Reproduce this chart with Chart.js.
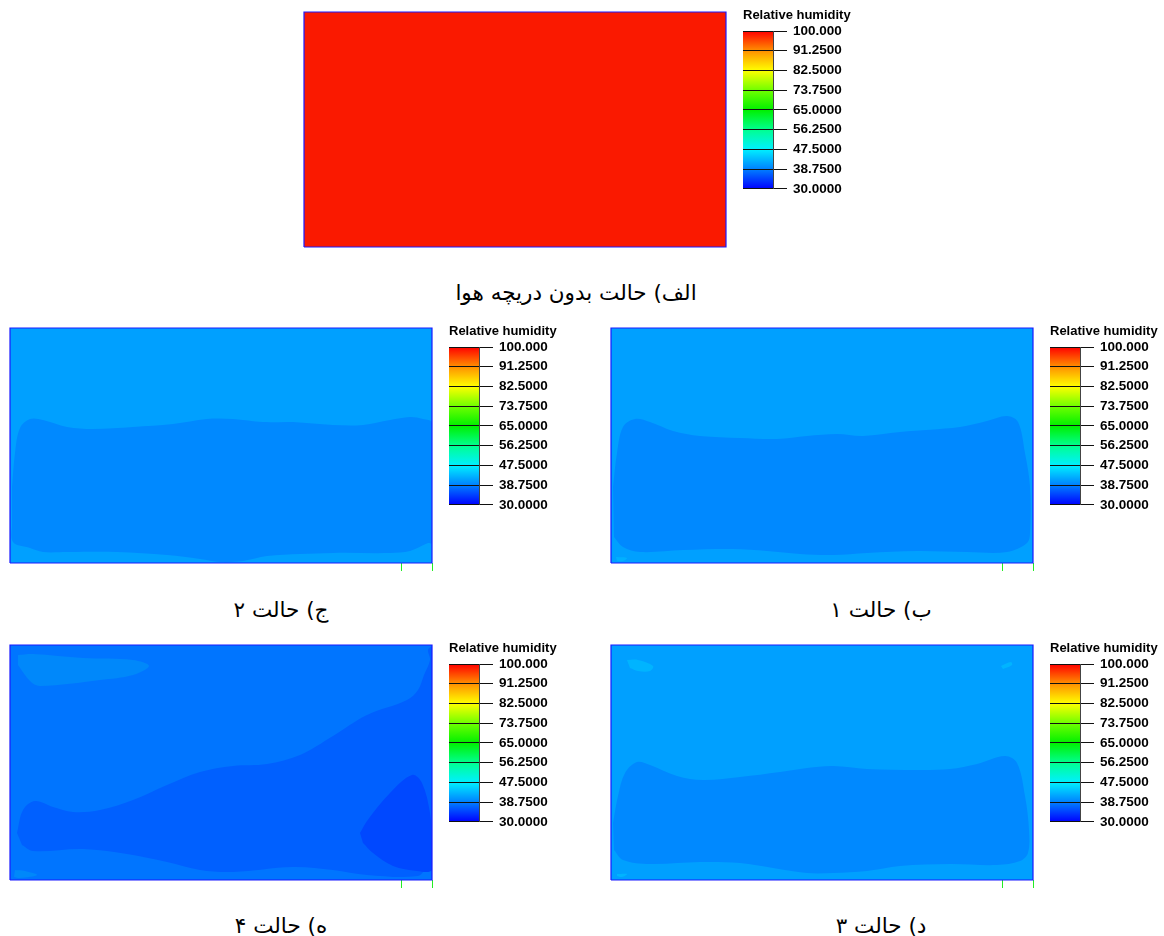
<!DOCTYPE html>
<html>
<head>
<meta charset="utf-8">
<title>Relative humidity</title>
<script src="https://cdn.jsdelivr.net/npm/chart.js@4/dist/chart.umd.min.js"></script>
<style>
	html, body { margin: 0; padding: 0; background: #fff; }
	#page { position: relative; width: 1164px; height: 936px; overflow: hidden; }
	canvas { position: absolute; }
	.caption {
		position: absolute;
		transform: translate(-50%, -50%);
		font-family: "DejaVu Sans", sans-serif;
		font-size: 21.5px;
		color: #000;
		white-space: nowrap;
		direction: rtl;
	}
</style>
</head>
<body>
<div id="page"></div>
<script>

/* Colour bar */
var barLevels = [30, 38.75, 47.5, 56.25, 65, 73.75, 82.5, 91.25, 100];
var barTickLabels = ['30.0000', '38.7500', '47.5000', '56.2500', '65.0000', '73.7500', '82.5000', '91.2500', '100.000'];
var barColors = ['#0000ff', '#0080ff', '#00f0ff', '#00ff90', '#00f000', '#70ff00', '#ffff00', '#ff9000', '#ff0000'];
var barTitle = 'Relative humidity';

/* Room outline, x 0-422 and y 0-235 */
var roomOutline = [[0, 0], [422, 0], [422, 235], [0, 235]];

/* Case 1 contours */
var case1Mid = [[2, 76], [6, 110], [12, 136], [24, 144], [39, 141], [62, 132], [89, 127], [129, 125], [166, 124], [196, 127], [226, 129], [252, 127], [289, 131], [349, 136], [376, 142], [396, 147], [407, 141], [414, 110], [419, 76], [419, 30], [416, 20], [396, 11], [356, 11], [306, 12], [256, 10], [222, 8], [189, 9], [156, 12], [122, 14], [72, 13], [29, 11], [12, 16], [3, 26]];
var case1Spot = [[5, 6], [16, 5], [12, 2], [6, 2]];

/* Case 2 contours */
var case2Mid = [[2, 76], [5, 110], [10, 135], [20, 144], [33, 143], [57, 136], [83, 134], [123, 136], [163, 139], [197, 144], [223, 144], [253, 141], [283, 141], [323, 138], [353, 138], [380, 143], [400, 146], [413, 144], [422, 140], [422, 20], [418, 20], [400, 12], [380, 10], [323, 10], [257, 7], [233, 2], [210, 1], [190, 4], [157, 8], [107, 11], [57, 11], [33, 11], [20, 15], [3, 21], [2, 40]];

/* Case 3 contours */
var case3Mid = [[2, 57], [7, 84], [14, 107], [26, 118], [39, 115], [66, 104], [92, 100], [129, 103], [169, 108], [196, 112], [222, 114], [256, 111], [306, 110], [339, 111], [366, 116], [394, 124], [406, 117], [414, 84], [418, 50], [417, 27], [409, 19], [386, 15], [339, 16], [289, 14], [256, 9], [222, 7], [196, 7], [162, 12], [129, 17], [89, 18], [39, 16], [12, 20], [3, 30]];
var case3SpotLeft = [[16, 220], [27, 220], [42, 214], [39, 209], [27, 209], [19, 212]];
var case3SpotRight = [[390, 214], [400, 218], [401, 215], [392, 211]];
var case3SpotLow = [[6, 6], [16, 6], [11, 3], [6, 4]];

/* Case 4 contours */
var case4Light = [[8, 225], [23, 226], [73, 222], [123, 220], [139, 214], [123, 205], [90, 200], [30, 194], [20, 199], [8, 215]];
var case4Dark = [[7, 47], [13, 70], [25, 79], [43, 73], [63, 68], [90, 70], [123, 80], [157, 95], [190, 108], [223, 114], [257, 116], [290, 125], [323, 144], [357, 165], [397, 180], [408, 190], [414, 205], [420, 220], [418, 230], [422, 233], [422, 14], [418, 14], [408, 4], [357, 5], [323, 10], [283, 13], [223, 8], [190, 10], [157, 18], [117, 26], [73, 31], [23, 29], [12, 35]];
var case4Darkest = [[350, 47], [357, 59], [380, 87], [402, 105], [412, 97], [420, 67], [422, 37], [422, 10], [407, 9], [383, 14], [363, 27], [353, 37]];
var case4Spot = [[5, 10], [15, 9], [27, 5], [10, 2], [4, 3]];

/* Marks under the room for the air inlets */
var inletTicks = [391.5, 422];

var captions = [
	{ text: 'الف) حالت بدون دریچه هوا', x: 576, y: 292 },
	{ text: 'ج) حالت ۲', x: 281, y: 609 },
	{ text: 'ب) حالت ۱', x: 881, y: 609 },
	{ text: 'ه) حالت ۴', x: 281, y: 925 },
	{ text: 'د) حالت ۳', x: 881, y: 925 }
];

var panels = [
	{ left: 304, top: 12, ticks: [], layers: [[roomOutline, '#fa1900', 0]] },
	{ left: 10, top: 328, ticks: inletTicks, layers: [[roomOutline, '#00a0ff', 0], [case2Mid, '#0089ff', 0.35]] },
	{ left: 611, top: 328, ticks: inletTicks, layers: [[roomOutline, '#00a0ff', 0], [case1Mid, '#0089ff', 0.35], [case1Spot, '#00b0ff', 0.35]] },
	{ left: 10, top: 645, ticks: inletTicks, layers: [[roomOutline, '#0075ff', 0], [case4Light, '#0088fa', 0.35], [case4Spot, '#0088fa', 0.35], [case4Dark, '#0060ff', 0.35], [case4Darkest, '#0048ff', 0.35]] },
	{ left: 611, top: 645, ticks: inletTicks, layers: [[roomOutline, '#00a0ff', 0], [case3Mid, '#0089ff', 0.35], [case3SpotLeft, '#00b4ff', 0.35], [case3SpotRight, '#00b4ff', 0.35], [case3SpotLow, '#00b4ff', 0.35]] }
];

var page = document.getElementById('page');

Chart.defaults.animation = false;
Chart.defaults.responsive = false;
Chart.defaults.devicePixelRatio = 1;
Chart.defaults.events = [];
Chart.defaults.plugins.legend.display = false;
Chart.defaults.plugins.tooltip.enabled = false;

function addCanvas(left, top, width, height) {
	var canvas = document.createElement('canvas');
	canvas.width = width;
	canvas.height = height;
	canvas.style.left = left + 'px';
	canvas.style.top = top + 'px';
	canvas.style.width = width + 'px';
	canvas.style.height = height + 'px';
	page.appendChild(canvas);
	return canvas;
}

function toPoints(pairs) {
	return pairs.map(function(pair) {
		return { x: pair[0], y: pair[1] };
	});
}


/* ********************************

    Room contour plot

******************************** */

function buildRoom(panel) {

	var datasets = panel.layers.map(function(layer, i) {
		return {
			data: toPoints(layer[0]),
			showLine: true,
			fill: 'shape',
			backgroundColor: layer[1],
			borderColor: layer[1],
			borderWidth: 0,
			pointRadius: 0,
			tension: layer[2],
			order: panel.layers.length - i
		};
	});

	/* Blue frame goes on top of everything */
	datasets.push({
		data: toPoints(roomOutline.concat([roomOutline[0]])),
		showLine: true,
		fill: false,
		borderColor: '#1a1aff',
		borderWidth: 1.2,
		pointRadius: 0,
		tension: 0,
		clip: false,
		order: -1
	});

	new Chart(addCanvas(panel.left - 2, panel.top - 2, 426, 247), {
		type: 'scatter',
		data: { datasets: datasets },
		options: {
			layout: { padding: { left: 2, right: 2, top: 2, bottom: panel.ticks.length ? 2 : 10 } },
			scales: {
				x: {
					display: panel.ticks.length > 0,
					min: 0,
					max: 422,
					afterBuildTicks: function(scale) {
						scale.ticks = panel.ticks.map(function(v) { return { value: v }; });
					},
					ticks: { display: false },
					border: { display: false },
					grid: { color: '#22ee22', drawOnChartArea: false, tickLength: 8, lineWidth: 1 }
				},
				y: { display: false, min: 0, max: 235 }
			}
		}
	});
}


/* ********************************

    Colour bar

******************************** */

function barGradient(context) {
	var chart = context.chart;
	if (!chart.chartArea) {
		return '#000';
	}
	var gradient = chart.ctx.createLinearGradient(0, chart.chartArea.bottom, 0, chart.chartArea.top);
	barColors.forEach(function(color, i) {
		gradient.addColorStop(i / (barColors.length - 1), color);
	});
	return gradient;
}

function buildBar(panel) {

	var datasets = [];
	for (var i = 0; i < barLevels.length - 1; i++) {
		datasets.push({
			data: [[barLevels[i], barLevels[i + 1]]],
			grouped: false,
			backgroundColor: barGradient,
			borderWidth: 0,
			barPercentage: 1,
			categoryPercentage: 1
		});
	}

	new Chart(addCanvas(panel.left + 438, panel.top - 4, 120, 195), {
		type: 'bar',
		data: { labels: [''], datasets: datasets },
		options: {
			layout: { padding: { left: 1, right: 0, top: 0, bottom: 8 } },
			plugins: {
				title: {
					display: true,
					text: barTitle,
					align: 'start',
					color: '#000',
					font: { family: 'Liberation Sans', size: 13, weight: 'bold' },
					padding: { top: 0, bottom: 7.4 }
				}
			},
			scales: {
				x: { display: false },
				y: {
					position: 'right',
					min: 30,
					max: 100,
					afterFit: function(scale) {
						scale.width = 89;
					},
					afterBuildTicks: function(scale) {
						scale.ticks = barLevels.map(function(v) { return { value: v }; });
					},
					ticks: {
						color: '#000',
						padding: 6,
						font: { family: 'Liberation Sans', size: 13.5, weight: 'bold' },
						callback: function(value) {
							return barTickLabels[barLevels.indexOf(value)];
						}
					},
					border: { color: '#444', z: 2 },
					grid: { color: '#111', tickLength: 14, lineWidth: 1, z: 1 }
				}
			}
		}
	});
}

panels.forEach(function(panel) {
	buildRoom(panel);
	buildBar(panel);
});

captions.forEach(function(caption) {
	var div = document.createElement('div');
	div.className = 'caption';
	div.textContent = caption.text;
	div.style.left = caption.x + 'px';
	div.style.top = caption.y + 'px';
	page.appendChild(div);
});

</script>
</body>
</html>
